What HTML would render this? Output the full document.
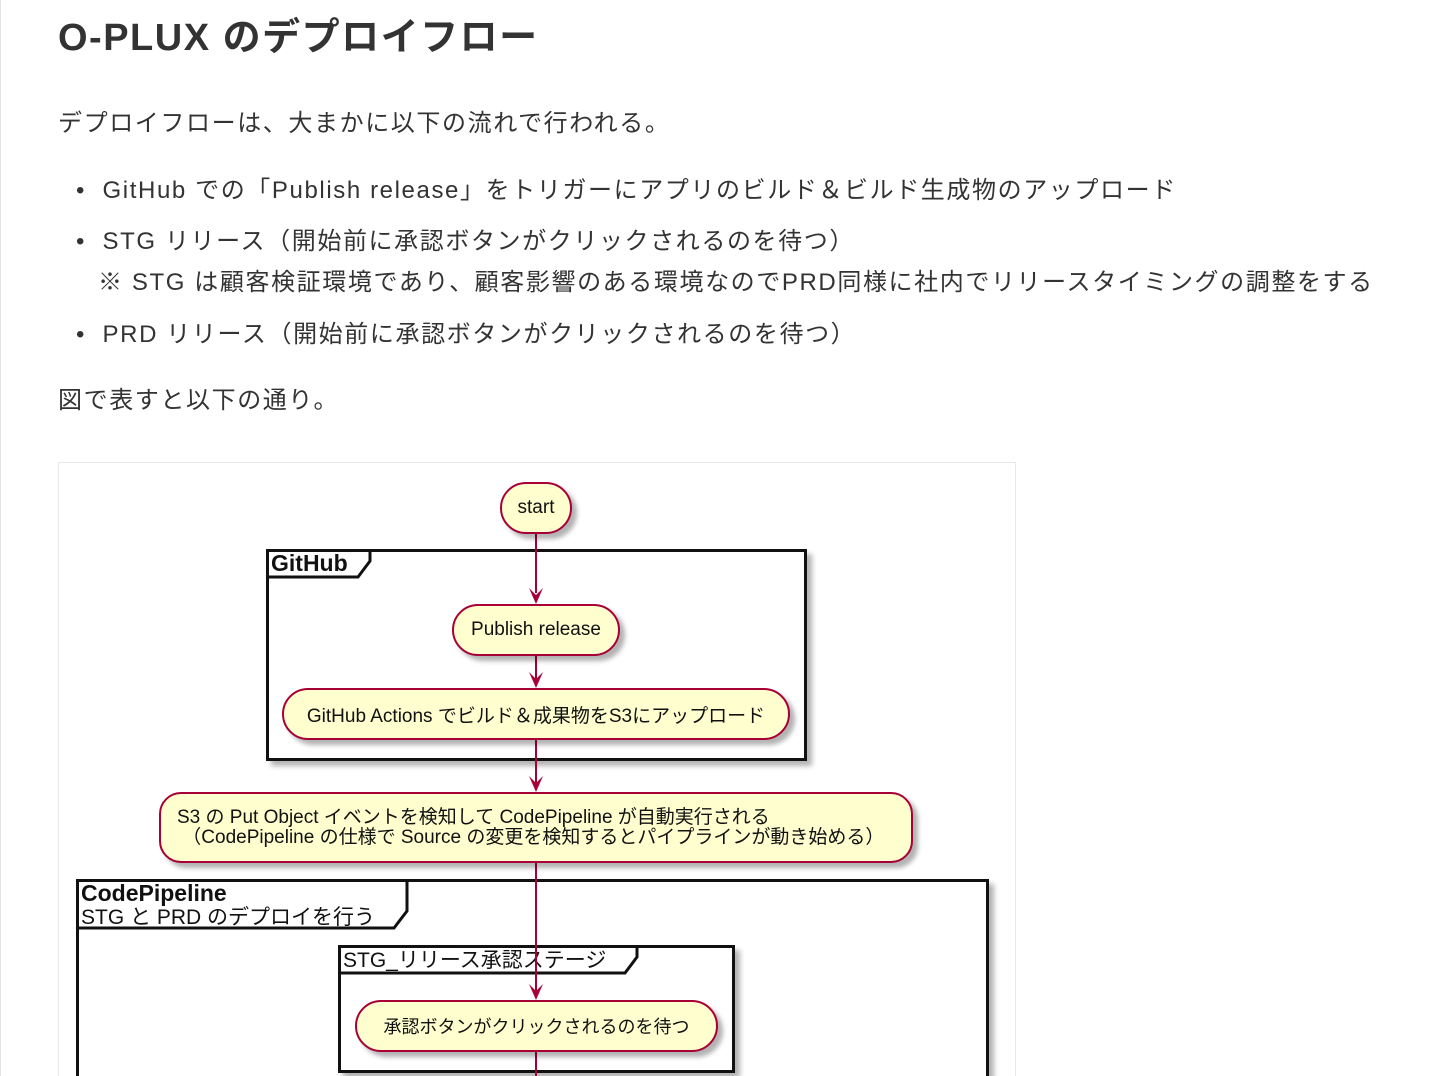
<!DOCTYPE html>
<html style="overflow:hidden;height:1076px"><head><meta charset="utf-8"><style>
body{margin:0;width:1440px;height:1076px;overflow:hidden;background:#fff;font-family:"Liberation Sans","Noto Sans CJK JP",sans-serif;color:#333;position:relative}
.a{position:absolute;white-space:nowrap}
.t{letter-spacing:1.6px}
.node{position:absolute;background:#FEFECE;border:2px solid #A80036;box-sizing:border-box;border-radius:26px;box-shadow:5px 5px 5px rgba(0,0,0,.3);display:flex;align-items:center;justify-content:center;font-size:19px;color:#111;white-space:nowrap}
.frame{position:absolute;border:3px solid #111;box-sizing:border-box;box-shadow:5px 5px 5px rgba(0,0,0,.3)}
.line{position:absolute;left:535px;width:2px;background:#A80036}
</style></head><body>
<div class="a" style="left:0;top:0;width:1px;height:1076px;background:#e4e4e4"></div>
<div class="a" style="left:58px;top:6px;font-size:38px;font-weight:bold;color:#333;letter-spacing:1.5px">O-PLUX のデプロイフロー</div>
<div class="a t" style="left:58px;top:103px;font-size:24px">デプロイフローは、大まかに以下の流れで行われる。</div>
<div class="a t" style="left:76px;top:170px;font-size:24px">•&nbsp; GitHub での「Publish release」をトリガーにアプリのビルド＆ビルド生成物のアップロード</div>
<div class="a t" style="left:76px;top:221px;font-size:24px">•&nbsp; STG リリース（開始前に承認ボタンがクリックされるのを待つ）</div>
<div class="a t" style="left:98px;top:262px;font-size:24px">※ STG は顧客検証環境であり、顧客影響のある環境なのでPRD同様に社内でリリースタイミングの調整をする</div>
<div class="a t" style="left:76px;top:314px;font-size:24px">•&nbsp; PRD リリース（開始前に承認ボタンがクリックされるのを待つ）</div>
<div class="a t" style="left:58px;top:380px;font-size:24px">図で表すと以下の通り。</div>
<div class="a" style="left:58px;top:462px;width:958px;height:640px;border:1px solid #e8e8e8;box-sizing:border-box"></div>

<div class="frame" style="left:266px;top:549px;width:541px;height:212px"></div>
<svg class="a" style="left:266px;top:549px" width="110" height="30"><path d="M1.5 1.5H104V12L92 28H1.5Z" fill="#fff" stroke="#111" stroke-width="3"/><text x="5" y="22" font-size="23" font-weight="bold" fill="#111" font-family="Liberation Sans">GitHub</text></svg>

<div class="frame" style="left:76px;top:879px;width:913px;height:210px"></div>
<svg class="a" style="left:76px;top:879px" width="340" height="52"><path d="M1.5 1.5H331V32L318 49H1.5Z" fill="#fff" stroke="#111" stroke-width="3"/><text x="5" y="22" font-size="23" font-weight="bold" fill="#111" font-family="Liberation Sans">CodePipeline</text><text x="5" y="45" font-size="21" fill="#111" font-family="Liberation Sans,Noto Sans CJK JP">STG と PRD のデプロイを行う</text></svg>

<div class="frame" style="left:338px;top:945px;width:397px;height:128px"></div>
<svg class="a" style="left:338px;top:945px" width="305" height="30"><path d="M1.5 1.5H299V12L287 28H1.5Z" fill="#fff" stroke="#111" stroke-width="3"/><text x="5" y="22" font-size="21" fill="#111" font-family="Liberation Sans,Noto Sans CJK JP">STG_リリース承認ステージ</text></svg>

<div class="line" style="top:533px;height:60px"></div>
<div class="line" style="top:656px;height:24px"></div>
<div class="line" style="top:740px;height:44px"></div>
<div class="line" style="top:862px;height:130px"></div>
<div class="line" style="top:1052px;height:30px"></div>
<svg class="a" style="left:526px;top:588px" width="20" height="18"><path d="M10 16L3 0L10 7L17 0Z" fill="#A80036"/></svg>
<svg class="a" style="left:526px;top:672px" width="20" height="18"><path d="M10 16L3 0L10 7L17 0Z" fill="#A80036"/></svg>
<svg class="a" style="left:526px;top:776px" width="20" height="18"><path d="M10 16L3 0L10 7L17 0Z" fill="#A80036"/></svg>
<svg class="a" style="left:526px;top:984px" width="20" height="18"><path d="M10 16L3 0L10 7L17 0Z" fill="#A80036"/></svg>

<div class="node" style="left:500px;top:482px;width:72px;height:52px">start</div>
<div class="node" style="left:452px;top:604px;width:168px;height:52px">Publish release</div>
<div class="node" style="left:282px;top:688px;width:508px;height:52px">GitHub Actions でビルド＆成果物をS3にアップロード</div>
<div class="node" style="left:159px;top:792px;width:754px;height:71px;border-radius:22px;line-height:20px;display:block;padding-left:16px;padding-top:14px">S3 の Put Object イベントを検知して CodePipeline が自動実行される<br>&nbsp;（CodePipeline の仕様で Source の変更を検知するとパイプラインが動き始める）</div>
<div class="node" style="left:355px;top:1000px;width:363px;height:52px;font-size:18px">承認ボタンがクリックされるのを待つ</div>
</body></html>
